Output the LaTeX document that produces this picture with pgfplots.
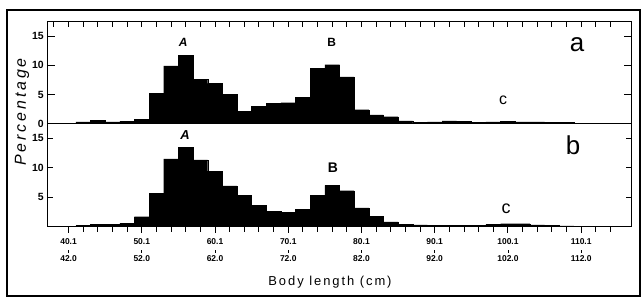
\documentclass[border=0pt]{standalone}
\usepackage{fontspec}
\setmainfont{Liberation Sans}
\usepackage{pgfplots}
\pgfplotsset{compat=1.18}
\pgfplotsset{
  hist/.style={
    scale only axis, width=584.4bp,
    xmin=38.1, xmax=117.9, ymin=0, ymax=17.45,
    axis line style={line width=1.1bp},
    tick style={line width=0.9bp, black},
    major tick length=7bp, minor tick length=5bp,
    tick align=inside,
    ytick pos=both, yticklabel pos=left,
    /pgf/number format/assume math mode=true,
    yticklabel style={font=\fontsize{10.5}{11}\selectfont\bfseries},
  },
  histbar/.style={const plot mark left, fill=black, draw=black, line width=0.3pt, line join=miter},
}
\begin{document}
\begin{tikzpicture}
\path[use as bounding box] (0bp,0bp) rectangle (641bp,301bp);
\draw[line width=1.3bp] (7bp,291bp) -- (640bp,291bp) -- (640bp,5bp) -- (7bp,5bp) -- cycle;

\begin{axis}[hist, at={(47.3bp,177.3bp)}, anchor=south west, height=102bp,
  xtick={39,41,...,115}, xticklabel=\empty, xtick pos=right, major tick length=5bp,
  ytick={0,5,10,15}, extra y ticks={0,5,10,15}, extra y tick labels={},
  extra y tick style={major tick length=8bp}]
\addplot[histbar] coordinates {
(40,0.1)(42,0.3)(44,0.6)(46,0.3)(48,0.4)(50,0.8)(52,5.2)(54,9.9)(56,11.7)(58,7.6)
(60,6.9)(62,5.0)(64,2.1)(66,3.0)(68,3.5)(70,3.6)(72,4.5)(74,9.5)(76,10.1)(78,8.0)
(80,2.4)(82,1.5)(84,1.2)(86,0.5)(88,0.2)(90,0.3)(92,0.5)(94,0.4)(96,0.25)(98,0.3)
(100,0.45)(102,0.3)(104,0.3)(106,0.2)(108,0.2)(110,0.1)(112,0.1)(114,0.05)(116,0)
} \closedcycle;
\end{axis}

\begin{axis}[hist, at={(47.3bp,74.3bp)}, anchor=south west, height=103bp,
  xtick={41,51,...,111}, minor xtick={41,43,...,115}, xtick pos=left, xtick align=outside,
  major tick length=6bp,
  xticklabel style={align=center, font=\fontsize{8.5}{8.5}\selectfont\bfseries, yshift=-2bp},
  xticklabels={{40.1\\\rule{0.6pt}{2.5pt}\\42.0},{50.1\\\rule{0.6pt}{2.5pt}\\52.0},{60.1\\\rule{0.6pt}{2.5pt}\\62.0},{70.1\\\rule{0.6pt}{2.5pt}\\72.0},{80.1\\\rule{0.6pt}{2.5pt}\\82.0},{90.1\\\rule{0.6pt}{2.5pt}\\92.0},{100.1\\\rule{0.6pt}{2.5pt}\\102.0},{110.1\\\rule{0.6pt}{2.5pt}\\112.0}},
  ytick={5,10,15}]
\addplot[histbar] coordinates {
(40,0.1)(42,0.2)(44,0.45)(46,0.4)(48,0.6)(50,1.7)(52,5.7)(54,11.5)(56,13.4)(58,11.3)
(60,9.4)(62,6.9)(64,5.3)(66,3.6)(68,2.6)(70,2.4)(72,2.9)(74,5.3)(76,7.0)(78,6.1)
(80,3.2)(82,1.8)(84,0.8)(86,0.4)(88,0.3)(90,0.25)(92,0.2)(94,0.2)(96,0.25)(98,0.4)
(100,0.5)(102,0.5)(104,0.3)(106,0.2)(108,0.15)(110,0.1)(112,0.1)(114,0.05)(116,0)
} \closedcycle;
\end{axis}

\node[font=\fontsize{12}{12}\selectfont\bfseries\itshape] at (183.3bp,258.5bp) {A};
\node[font=\fontsize{12}{12}\selectfont\bfseries] at (331.7bp,258.5bp) {B};
\node[font=\fontsize{26}{26}\selectfont] at (577bp,256bp) {a};
\node[font=\fontsize{16}{16}\selectfont] at (503bp,200.5bp) {c};
\node[font=\fontsize{13}{13}\selectfont\bfseries\itshape] at (185bp,166bp) {A};
\node[font=\fontsize{14}{14}\selectfont\bfseries] at (333bp,133bp) {B};
\node[font=\fontsize{26}{26}\selectfont] at (573bp,156bp) {b};
\node[font=\fontsize{18}{18}\selectfont] at (506bp,92bp) {c};
\node[font=\fontsize{13}{13}\selectfont\addfontfeature{LetterSpace=15}] at (330bp,19bp) {Body length (cm)};
\node[rotate=90, font=\fontsize{16}{16}\selectfont\itshape\addfontfeature{LetterSpace=18}] at (22bp,189bp) {Percentage};
\end{tikzpicture}
\end{document}
